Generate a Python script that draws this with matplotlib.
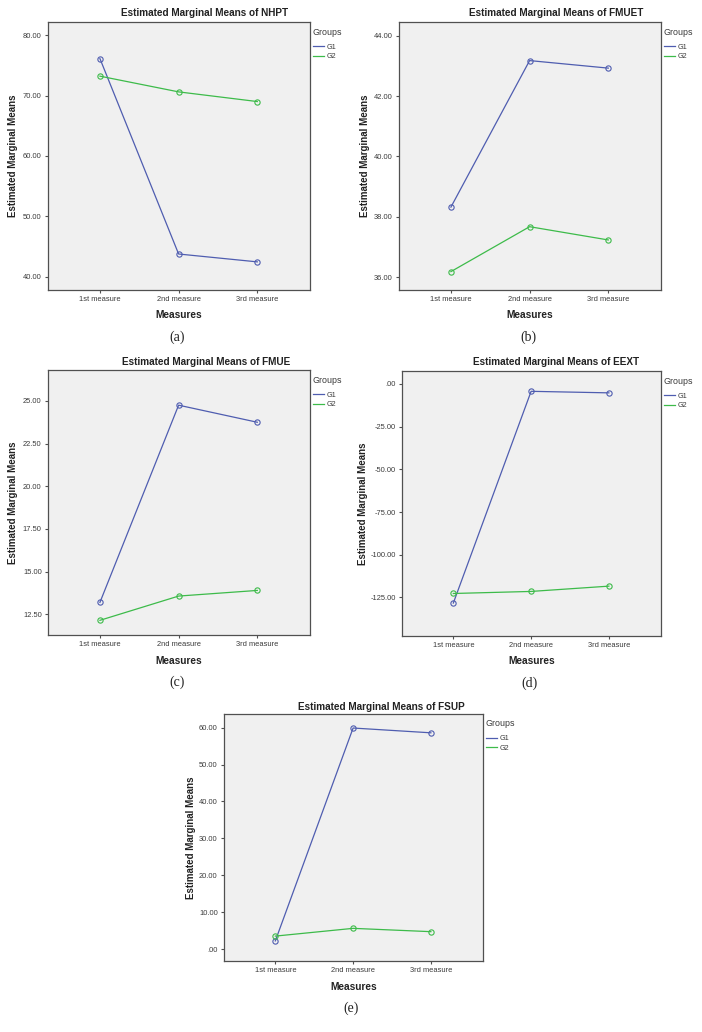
import matplotlib
matplotlib.use("Agg")
import matplotlib.pyplot as plt
from matplotlib.lines import Line2D

# ---------------- data ----------------
measures = ["1st measure", "2nd measure", "3rd measure"]
groups = ["G1", "G2"]

nhpt_g1 = [76.1, 43.8, 42.5]
nhpt_g2 = [73.2, 70.6, 69.0]

fmuet_g1 = [38.32, 43.18, 42.93]
fmuet_g2 = [36.18, 37.67, 37.23]

fmue_g1 = [13.2, 24.75, 23.75]
fmue_g2 = [12.15, 13.57, 13.9]

eext_g1 = [-128.3, -4.3, -5.2]
eext_g2 = [-122.7, -121.5, -118.4]

fsup_g1 = [2.2, 59.9, 58.6]
fsup_g2 = [3.5, 5.6, 4.7]

panels = [
    dict(name="NHPT", g1=nhpt_g1, g2=nhpt_g2, ylim=(37.85, 82.15), ticks=[40, 50, 60, 70, 80], tag="(a)"),
    dict(name="FMUET", g1=fmuet_g1, g2=fmuet_g2, ylim=(35.57, 44.46), ticks=[36, 38, 40, 42, 44], tag="(b)"),
    dict(name="FMUE", g1=fmue_g1, g2=fmue_g2, ylim=(11.29, 26.81), ticks=[12.5, 15, 17.5, 20, 22.5, 25], tag="(c)"),
    dict(name="EEXT", g1=eext_g1, g2=eext_g2, ylim=(-147.6, 7.6), ticks=[-125, -100, -75, -50, -25, 0], tag="(d)"),
    dict(name="FSUP", g1=fsup_g1, g2=fsup_g2, ylim=(-3.25, 63.7), ticks=[0, 10, 20, 30, 40, 50, 60], tag="(e)"),
]

# ---------------- layout (pixels) ----------------
W, H = 702, 1032
boxes = [  # left, top, right, bottom
    (48, 22, 310, 290),
    (399, 22, 661, 290),
    (48, 370, 310, 635),
    (402, 371, 661, 636),
    (224, 714, 483, 961),
]
title_pos = [(205, 13), (556, 13), (206, 362), (556, 362), (381, 707)]
ylabel_x = [13.5, 364.5, 13.5, 363, 191]

C1 = "#4F5DB0"
C2 = "#3DBB4A"
SANS = ["Liberation Sans", "DejaVu Sans"]
SERIF = ["Liberation Serif", "DejaVu Serif"]


def fmt(v):
    s = "%.2f" % v
    if s.startswith("0."):
        s = s[1:]
    elif s.startswith("-0."):
        s = "-" + s[2:]
    return s


fig = plt.figure(figsize=(W / 100, H / 100), dpi=100)
fig.patch.set_facecolor("white")

xpos = [1, 2, 3]
for p, (l, t, r, b), (tx, ty), ylx in zip(panels, boxes, title_pos, ylabel_x):
    ax = fig.add_axes([l / W, 1 - b / H, (r - l) / W, (b - t) / H])
    ax.set_facecolor("#F0F0F0")
    ax.plot(xpos, p["g1"], color=C1, lw=0.9, marker="o", ms=3.8, mfc="none", mec=C1, mew=0.8)
    ax.plot(xpos, p["g2"], color=C2, lw=0.9, marker="o", ms=3.8, mfc="none", mec=C2, mew=0.8)
    ax.set_xlim(0.34, 3.67)
    ax.set_ylim(*p["ylim"])
    ax.set_xticks(xpos)
    ax.set_xticklabels(measures)
    ax.set_yticks(p["ticks"])
    ax.set_yticklabels([fmt(v) for v in p["ticks"]])
    for s in ax.spines.values():
        s.set_color("#505050")
        s.set_linewidth(0.9)
    ax.tick_params(direction="out", length=2.5, width=0.8, color="#505050",
                   labelsize=5.4, labelcolor="#3a3a3a", pad=2)
    for lab in ax.get_xticklabels() + ax.get_yticklabels():
        lab.set_family(SANS)

    handles = [Line2D([], [], color=C1, lw=0.9), Line2D([], [], color=C2, lw=0.9)]
    leg = ax.legend(handles, groups, loc="upper left", bbox_to_anchor=(1.0, 0.99),
                    frameon=False, title="Groups", alignment="left",
                    prop=dict(family=SANS, size=5.2), title_fontproperties=dict(family=SANS, size=6.4),
                    handlelength=1.6, handletextpad=0.3, labelspacing=0.35,
                    borderaxespad=0.2, borderpad=0.2)
    leg._legend_box.sep = 5
    leg.get_title().set_color("#3a3a3a")
    for txt in leg.get_texts():
        txt.set_color("#3a3a3a")

    cx = (l + r) / 2
    fig.text(tx / W, 1 - ty / H, "Estimated Marginal Means of " + p["name"],
             ha="center", va="center", fontsize=7.2, fontweight="bold", family=SANS, color="#222222")
    fig.text(ylx / W, 1 - ((t + b) / 2) / H, "Estimated Marginal Means", rotation=90,
             ha="center", va="center", fontsize=7, fontweight="bold", family=SANS, color="#222222")
    fig.text(cx / W, 1 - (b + 25.5) / H, "Measures", ha="center", va="center",
             fontsize=7.3, fontweight="bold", family=SANS, color="#222222")
    fig.text((cx - 2) / W, 1 - (b + 47) / H, p["tag"], ha="center", va="center",
             fontsize=10, family=SERIF, color="#222222")

fig.savefig("out.png", dpi=100, facecolor="white")
